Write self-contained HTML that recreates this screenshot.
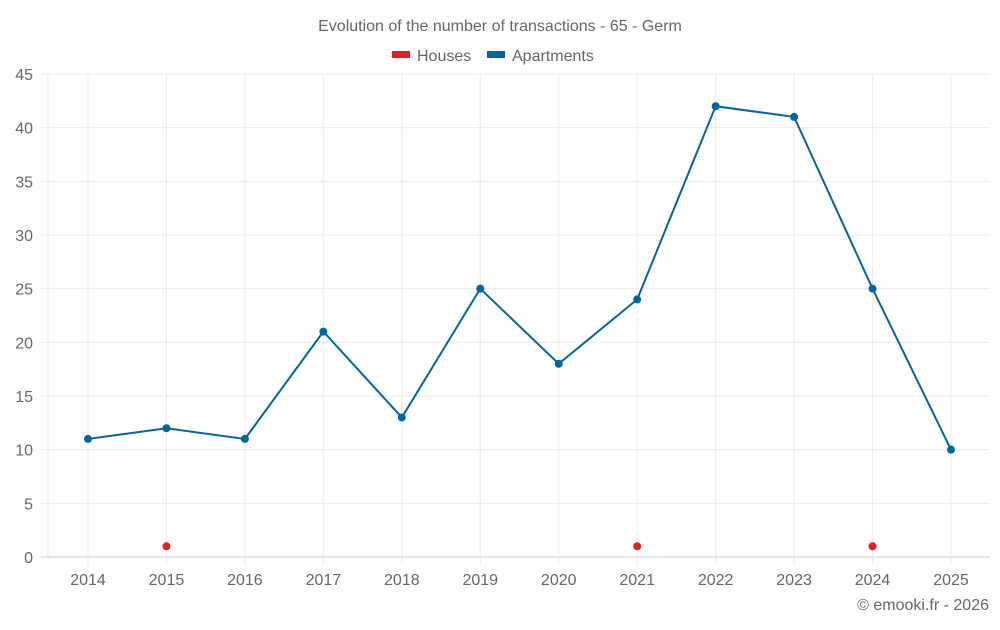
<!DOCTYPE html>
<html><head><meta charset="utf-8"><style>
body{margin:0;background:#fff;font-family:"Liberation Sans",Roboto,sans-serif;}
svg text{font-family:"Liberation Sans",sans-serif;fill:#666;}
</style></head><body>
<svg id="chart" width="1000" height="625" xmlns="http://www.w3.org/2000/svg">
<text x="500" y="31" text-anchor="middle" font-size="16">Evolution of the number of transactions - 65 - Germ</text>
<g>
<g><rect x="392" y="51" width="18" height="7" fill="#dd2222"/><text x="417" y="61" font-size="16">Houses</text></g>
<g><rect x="487" y="51" width="18" height="7" fill="#0066a0"/><text x="512" y="61" font-size="16">Apartments</text></g>
</g>
<g id="grid"></g><g id="axes"></g><g id="series"></g>
<text x="989" y="610" text-anchor="end" font-size="16">© emooki.fr - 2026</text>
</svg>
<script>
const years=[2014,2015,2016,2017,2018,2019,2020,2021,2022,2023,2024,2025];
const apartments=[11,12,11,21,13,25,18,24,42,41,25,10];
const houses=[null,1,null,null,null,null,null,1,null,null,1,null];
const yTicks=[0,5,10,15,20,25,30,35,40,45];
const NS="http://www.w3.org/2000/svg";
const L=48,R=990,T=74,B=557,yMax=45;
const step=(951-88)/(years.length-1);
const x=i=>88+i*step;
const y=v=>B-(v/yMax)*(B-T);
function mk(tag,attrs,parent){const e=document.createElementNS(NS,tag);for(const k in attrs)e.setAttribute(k,attrs[k]);parent.appendChild(e);return e;}
const grid=document.getElementById('grid'),axes=document.getElementById('axes'),ser=document.getElementById('series');
const vl=mk('line',{x1:L,x2:L,y1:T,y2:B,stroke:'#ebebeb'},grid);


yTicks.forEach(t=>{
 const g=mk('line',{x1:41,x2:R,y1:y(t),y2:y(t),stroke:t===0?'#ccc':'#ebebeb'},grid);
 
 
 const tx=mk('text',{x:33,y:y(t)+6,'text-anchor':'end','font-size':16},axes);
 tx.textContent=t;
 
 
});
years.forEach((yr,i)=>{
 const v=mk('line',{x1:x(i),x2:x(i),y1:T,y2:B+8,stroke:'#ebebeb'},grid);
 
 
 const tx=mk('text',{x:x(i),y:585,'text-anchor':'middle','font-size':16},axes);
 tx.textContent=yr;
 
 
});
const pts=apartments.map((v,i)=>x(i)+','+y(v)).join(' ');
const pl=mk('polyline',{points:pts,fill:'none',stroke:'#0066a0','stroke-width':2},ser);


apartments.forEach((v,i)=>{
 const c=mk('circle',{cx:x(i),cy:y(v),r:4,fill:'#0066a0'},ser);
 
 
});
houses.forEach((v,i)=>{
 if(v===null)return;
 const c=mk('circle',{cx:x(i),cy:y(v),r:4,fill:'#dd2222'},ser);
 
 
});
</script>
</body></html>
